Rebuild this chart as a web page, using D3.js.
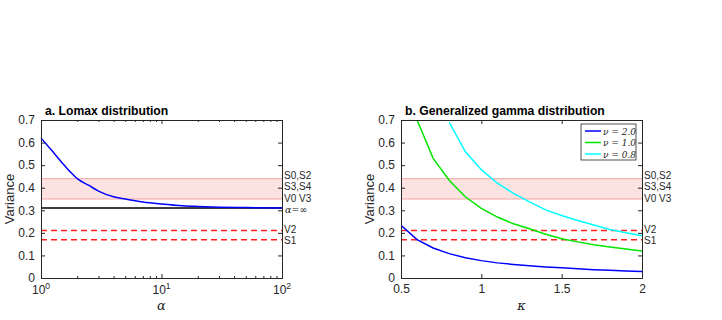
<!DOCTYPE html>
<html lang="en">
<head>
<meta charset="UTF-8">
<title>Variance</title>
<script src="https://cdn.jsdelivr.net/npm/d3@7"></script>
<style>
  body { margin: 0; background: #fff; }
  text { font-family: "Liberation Sans", Arial, sans-serif; fill: #262626; }
  .title { font-weight: bold; font-size: 12.2px; fill: #000; }
  .math { font-family: "DejaVu Serif", "Liberation Serif", serif; font-style: italic; }
</style>
</head>
<body>
<svg id="chart" width="722" height="320"></svg>
<script>
// reference levels
var bandLow = 0.35, bandHigh = 0.44;
var alphaInf = 0.31;
var dashedLevels = [0.21, 0.17];
var levelLabels = [["S0,S2", 0.456], ["S3,S4", 0.405], ["V0 V3", 0.353], ["V2", 0.214], ["S1", 0.167]];

// panel a: Lomax
var lomaxAlpha = [1, 1.25, 1.5, 1.75, 2, 2.5, 3, 4, 5, 7, 10, 15, 20, 30, 50, 100];
var lomaxVar = [0.62, 0.56, 0.51, 0.47, 0.44, 0.41, 0.385, 0.36, 0.35, 0.337, 0.328, 0.32, 0.317, 0.314, 0.312, 0.31];

// panel b: generalized gamma
var kappa = [0.5, 0.6, 0.7, 0.8, 0.9, 1.0, 1.1, 1.2, 1.3, 1.4, 1.5, 1.6, 1.7, 1.8, 1.9, 2.0];
var nu20 = [0.234, 0.17, 0.133, 0.108, 0.09, 0.077, 0.067, 0.06, 0.054, 0.049, 0.045, 0.041, 0.037, 0.034, 0.031, 0.029];
var nu10 = [null, 0.70, 0.53, 0.433, 0.36, 0.308, 0.27, 0.24, 0.218, 0.194, 0.174, 0.16, 0.147, 0.137, 0.128, 0.12];
var nu08 = [null, null, null, 0.69, 0.56, 0.48, 0.42, 0.375, 0.337, 0.302, 0.277, 0.255, 0.235, 0.215, 0.2, 0.187];
var seriesNames = ["\u03bd = 2.0", "\u03bd = 1.0", "\u03bd = 0.8"];
var seriesColors = ["#0000ff", "#00e600", "#00ffff"];

var svg = d3.select("#chart");
var plotTop = 120, plotBottom = 278;
var y = d3.scaleLinear().domain([0, 0.7]).range([plotBottom, plotTop]);

function drawPanel(x, left, right, opts) {
    var g = svg.append("g");

    // band
    g.append("rect")
        .attr("x", left).attr("width", right - left)
        .attr("y", y(bandHigh)).attr("height", y(bandLow) - y(bandHigh))
        .attr("fill", "#fde2e2");
    [bandLow, bandHigh].forEach(function (v) {
        g.append("line").attr("x1", left).attr("x2", right)
            .attr("y1", y(v)).attr("y2", y(v))
            .attr("stroke", "#f4a3a3").attr("stroke-width", 1);
    });
    dashedLevels.forEach(function (v) {
        g.append("line").attr("x1", left).attr("x2", right)
            .attr("y1", y(v)).attr("y2", y(v))
            .attr("stroke", "#ff2020").attr("stroke-width", 1.5)
            .attr("stroke-dasharray", "6,4");
    });

    opts.draw(g);

    // axes
    var yAxis = d3.axisLeft(y).tickValues(d3.range(0, 0.71, 0.1))
        .tickFormat(function (d) { return d === 0 ? "0" : d3.format(".1f")(d); })
        .tickSize(-4).tickPadding(6);
    var yAxisR = d3.axisRight(y).tickValues(d3.range(0, 0.71, 0.1)).tickSize(-4).tickFormat("");
    g.append("g").attr("transform", "translate(" + left + ",0)").call(yAxis);
    g.append("g").attr("transform", "translate(" + right + ",0)").call(yAxisR);
    opts.xAxes(g);
    g.selectAll(".domain").attr("stroke", "#262626");
    g.selectAll(".tick line").attr("stroke", "#262626");
    g.selectAll(".tick text").attr("fill", "#262626").attr("font-size", 12)
        .attr("font-family", "Liberation Sans, Arial, sans-serif");

    // labels on right
    levelLabels.forEach(function (l) {
        g.append("text").attr("x", right + 2).attr("y", y(l[1]))
            .attr("dominant-baseline", "central")
            .attr("font-size", 10).text(l[0]);
    });

    g.append("text").attr("transform", "translate(" + (left - 27) + "," + ((plotTop + plotBottom) / 2) + ") rotate(-90)")
        .attr("text-anchor", "middle").attr("font-size", 13).text("Variance");
    g.append("text").attr("class", "title").attr("x", left + 4).attr("y", plotTop - 5).text(opts.title);
    g.append("text").attr("class", "math").attr("x", (left + right) / 2).attr("y", 310)
        .attr("text-anchor", "middle").attr("font-size", 13).text(opts.xlabel);
}

// panel a
var xa = d3.scaleLog().domain([1, 100]).range([41, 282]);
drawPanel(xa, 41, 282, {
    title: "a. Lomax distribution",
    xlabel: "\u03b1",
    draw: function (g) {
        g.append("line").attr("x1", 41).attr("x2", 282)
            .attr("y1", y(alphaInf)).attr("y2", y(alphaInf))
            .attr("stroke", "#000").attr("stroke-width", 1.5);
        g.append("path")
            .datum(d3.zip(lomaxAlpha, lomaxVar))
            .attr("fill", "none").attr("stroke", "#0000ff").attr("stroke-width", 1.5)
            .attr("d", d3.line().curve(d3.curveMonotoneX)
                .x(function (d) { return xa(d[0]); })
                .y(function (d) { return y(d[1]); }));
        g.append("text").attr("class", "math").attr("x", 285).attr("y", y(alphaInf) + 1)
            .attr("dominant-baseline", "central")
            .attr("font-size", 9.5).text("\u03b1=\u221e");
    },
    xAxes: function (g) {
        var minor = [];
        for (var p = 0; p < 2; p++) for (var k = 2; k < 10; k++) minor.push(k * Math.pow(10, p));
        var major = [1, 10, 100];
        g.append("g").attr("transform", "translate(0," + plotBottom + ")")
            .call(d3.axisBottom(xa).tickValues(major).tickSize(-4).tickPadding(6).tickFormat(""));
        g.append("g").attr("transform", "translate(0," + plotBottom + ")")
            .call(d3.axisBottom(xa).tickValues(minor).tickSize(-2).tickFormat(""))
            .select(".domain").remove();
        g.append("g").attr("transform", "translate(0," + plotTop + ")")
            .call(d3.axisTop(xa).tickValues(major).tickSize(-4).tickFormat(""));
        g.append("g").attr("transform", "translate(0," + plotTop + ")")
            .call(d3.axisTop(xa).tickValues(minor).tickSize(-2).tickFormat(""))
            .select(".domain").remove();
        major.forEach(function (m, i) {
            var t = g.append("text").attr("x", xa(m)).attr("y", plotBottom + 16)
                .attr("text-anchor", "middle").attr("font-size", 12);
            t.append("tspan").text("10");
            t.append("tspan").attr("dy", -5).attr("font-size", 8.5).text(i);
        });
    }
});

// panel b
var xb = d3.scaleLinear().domain([0.5, 2]).range([401, 642]);
drawPanel(xb, 401, 642, {
    title: "b. Generalized gamma distribution",
    xlabel: "\u03ba",
    draw: function (g) {
        svg.append("clipPath").attr("id", "clipb").append("rect")
            .attr("x", 401).attr("y", plotTop).attr("width", 241).attr("height", plotBottom - plotTop);
        [nu20, nu10, nu08].forEach(function (s, i) {
            g.append("path")
                .datum(d3.zip(kappa, s))
                .attr("clip-path", "url(#clipb)")
                .attr("fill", "none").attr("stroke", seriesColors[i]).attr("stroke-width", 1.5)
                .attr("d", d3.line()
                    .defined(function (d) { return d[1] !== null; })
                    .x(function (d) { return xb(d[0]); })
                    .y(function (d) { return y(d[1]); }));
        });
        var lg = g.append("g");
        lg.append("rect").attr("x", 581).attr("y", 124).attr("width", 55).attr("height", 36)
            .attr("fill", "#fff").attr("stroke", "#262626").attr("stroke-width", 0.8);
        seriesNames.forEach(function (n, i) {
            var yy = 131 + i * 11.5;
            lg.append("line").attr("x1", 585).attr("x2", 601).attr("y1", yy).attr("y2", yy)
                .attr("stroke", seriesColors[i]).attr("stroke-width", 1.5);
            lg.append("text").attr("class", "math").attr("x", 603).attr("y", yy + 3.5)
                .attr("font-size", 9).text(n);
        });
    },
    xAxes: function (g) {
        var ticks = [0.5, 1, 1.5, 2];
        g.append("g").attr("transform", "translate(0," + plotBottom + ")")
            .call(d3.axisBottom(xb).tickValues(ticks).tickSize(-4).tickPadding(6)
                .tickFormat(function (d) { return d3.format("")(d); }));
        g.append("g").attr("transform", "translate(0," + plotTop + ")")
            .call(d3.axisTop(xb).tickValues(ticks).tickSize(-4).tickFormat(""));
    }
});
</script>
</body>
</html>
